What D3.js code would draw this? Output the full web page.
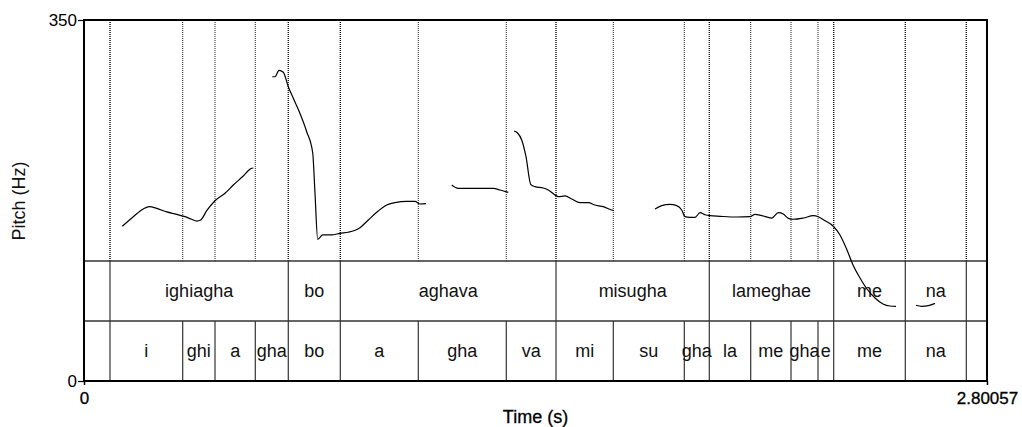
<!DOCTYPE html>
<html>
<head>
<meta charset="utf-8">
<script src="https://cdn.jsdelivr.net/npm/d3@7"></script>
<style>
  html, body { margin: 0; padding: 0; background: #fff; }
  svg { display: block; font-family: "Liberation Sans", Arial, Helvetica, sans-serif; }
</style>
</head>
<body>
<svg id="chart" width="1022" height="427"></svg>
<script>
// ---- data -------------------------------------------------------------
const totalDuration = 2.80057;
const pitchRange = [0, 350];
const yTickLabels = ["0", "350"];
const xTickLabels = ["0", "2.80057"];

// Word tier: interval boundaries (s) and labels
const wordBounds = [0.0806, 0.6336, 0.7949, 1.4639, 1.9393, 2.3251, 2.5472, 2.7364];
const wordLabels = ["", "ighiagha", "bo", "aghava", "misugha", "lameghae", "me", "na", ""];

// Syllable tier: interval boundaries (s) and labels
const sylBounds = [0.0806, 0.3061, 0.4063, 0.5313, 0.6336, 0.7949, 1.0368, 1.3097,
                   1.4639, 1.6416, 1.8618, 1.9393, 2.0677, 2.1927, 2.2764, 2.3251,
                   2.5472, 2.7364];
const sylLabels = ["", "i", "ghi", "a", "gha", "bo", "a", "gha", "va", "mi", "su",
                   "gha", "la", "me", "gha", "e", "me", "na", ""];

// Pitch contour (time s, F0 Hz), one array per voiced stretch
const pitchSeg1 = [[0.1188,150.0],[0.1529,159.3],[0.1839,166.8],[0.2025,169.0],[0.2255,167.4],
  [0.2565,163.9],[0.2875,161.6],[0.3132,159.3],[0.3340,156.8],[0.3495,155.1],[0.3619,156.1],
  [0.3805,165.1],[0.4063,174.8],[0.4373,182.0],[0.4630,190.0],[0.4941,198.8],[0.5170,205.8],
  [0.5251,206.5]];
const pitchSeg2 = [[0.5840,295.0],[0.5924,295.0],[0.6048,301.2],[0.6181,299.3],[0.6336,285.3],
  [0.6491,274.1],[0.6677,261.1],[0.6907,241.7],[0.7093,221.3],[0.7164,182.0],[0.7248,137.4],
  [0.7403,141.6],[0.7682,141.6],[0.7940,143.2],[0.8197,144.2],[0.8560,148.6],[0.8817,156.1],
  [0.9078,163.6],[0.9388,170.6],[0.9645,172.9],[1.0008,174.2],[1.0266,174.2],[1.0421,171.6],
  [1.0607,171.9]];
const pitchSeg3 = [[1.1404,190.0],[1.1609,186.8],[1.2074,186.8],[1.2694,186.8],[1.2902,185.2],
  [1.3159,182.9]];
const pitchSeg4 = [[1.3336,242.4],[1.3439,240.7],[1.3575,233.7],[1.3708,217.5],[1.3854,190.7],
  [1.3987,188.4],[1.4245,187.1],[1.4400,185.2],[1.4608,180.3],[1.4710,178.7],[1.4918,179.4],
  [1.5126,176.5],[1.5383,172.9],[1.5640,172.9],[1.5848,170.6],[1.6105,169.0],[1.6366,165.8],
  [1.6437,165.1]];
const pitchSeg5 = [[1.7709,166.8],[1.7917,170.0],[1.8174,171.3],[1.8382,170.0],[1.8537,165.8],
  [1.8640,159.3],[1.8795,158.7],[1.8950,158.7],[1.9105,163.2],[1.9260,161.2],[1.9415,160.3],
  [1.9725,159.7],[2.0243,159.0],[2.0656,159.3],[2.0811,161.6],[2.1019,160.3],[2.1329,158.0],
  [2.1534,163.2],[2.1689,161.9],[2.1844,157.7],[2.2000,156.8],[2.2310,158.0],[2.2618,160.3],
  [2.2773,159.3],[2.2981,155.4],[2.3229,150.3],[2.3446,141.6],[2.3664,127.0],[2.3850,112.5],
  [2.4067,99.9],[2.4284,89.2],[2.4532,80.5],[2.4780,74.7],[2.4997,72.7],[2.5183,72.4]];
const pitchSeg6 = [[2.5804,73.4],[2.5980,72.4],[2.6185,73.0],[2.6393,75.3]];

// ---- layout -----------------------------------------------------------
const svg = d3.select("#chart");
const plotLeft = 84, plotRight = 987, plotTop = 20, plotBottom = 381;
const tierHeight = 60;
const tier1Top = plotBottom - 2 * tierHeight;
const tier2Top = plotBottom - tierHeight;

const x = d3.scaleLinear().domain([0, totalDuration]).range([plotLeft, plotRight]);
const y = d3.scaleLinear().domain(pitchRange).range([plotBottom, plotTop]);

// dotted boundary guides in the pitch area (both tiers)
const guides = svg.append("g");
[wordBounds, sylBounds].forEach(bounds => {
  guides.selectAll(null).data(bounds).enter().append("line")
    .attr("x1", d => x(d)).attr("x2", d => x(d))
    .attr("y1", plotTop).attr("y2", tier1Top)
    .attr("stroke", "#000").attr("stroke-opacity", 0.8)
    .attr("stroke-width", 1.1).attr("stroke-dasharray", "1,1");
});

// tiers
function drawTier(bounds, labels, yTop) {
  const g = svg.append("g");
  g.append("line").attr("x1", plotLeft).attr("x2", plotRight)
    .attr("y1", yTop).attr("y2", yTop)
    .attr("stroke", "#333").attr("stroke-width", 1.3);
  g.selectAll("line.b").data(bounds).enter().append("line")
    .attr("class", "b")
    .attr("x1", d => x(d)).attr("x2", d => x(d))
    .attr("y1", yTop).attr("y2", yTop + tierHeight)
    .attr("stroke", "#333").attr("stroke-width", 1.2);
  const edges = [0, ...bounds, totalDuration];
  g.selectAll("text").data(labels).enter().append("text")
    .attr("x", (d, i) => (x(edges[i]) + x(edges[i + 1])) / 2)
    .attr("y", yTop + tierHeight / 2 + 6.3)
    .attr("text-anchor", "middle")
    .attr("font-size", 18)
    .attr("fill", "#111")
    .text(d => d);
}
drawTier(wordBounds, wordLabels, tier1Top);
drawTier(sylBounds, sylLabels, tier2Top);

// pitch contour
const line = d3.line()
  .x(d => x(d[0])).y(d => y(d[1]))
  .curve(d3.curveMonotoneX);
[pitchSeg1, pitchSeg2, pitchSeg3, pitchSeg4, pitchSeg5, pitchSeg6].forEach(seg => {
  svg.append("path").datum(seg)
    .attr("d", line)
    .attr("fill", "none")
    .attr("stroke", "#000")
    .attr("stroke-width", 1.2);
});

// frame
svg.append("rect")
  .attr("x", plotLeft).attr("y", plotTop)
  .attr("width", plotRight - plotLeft).attr("height", plotBottom - plotTop)
  .attr("fill", "none").attr("stroke", "#000").attr("stroke-width", 2);

// left axis
const yAxis = d3.axisLeft(y)
  .tickValues(pitchRange)
  .tickFormat((d, i) => yTickLabels[i])
  .tickSize(6).tickPadding(1);
const ya = svg.append("g").attr("transform", `translate(${plotLeft},0)`).call(yAxis);
ya.select(".domain").remove();
ya.selectAll(".tick line").attr("stroke", "#000").attr("stroke-width", 1.2);
ya.selectAll(".tick text").attr("font-size", 17).attr("fill", "#000")
  .attr("font-family", "Liberation Sans, Arial, sans-serif");

// bottom axis
const xAxis = d3.axisBottom(x)
  .tickValues([0, totalDuration])
  .tickFormat((d, i) => xTickLabels[i])
  .tickSize(4).tickPadding(7);
const xa = svg.append("g").attr("transform", `translate(0,${plotBottom})`).call(xAxis);
xa.select(".domain").remove();
xa.selectAll(".tick line").attr("stroke", "#000").attr("stroke-width", 1.5);
xa.selectAll(".tick text").attr("font-size", 17).attr("fill", "#000")
  .attr("stroke", "#000").attr("stroke-width", 0.3)
  .attr("font-family", "Liberation Sans, Arial, sans-serif");

// axis titles
svg.append("text")
  .attr("x", (plotLeft + plotRight) / 2).attr("y", 423)
  .attr("text-anchor", "middle").attr("font-size", 18).attr("fill", "#000")
  .attr("stroke", "#000").attr("stroke-width", 0.3)
  .text("Time (s)");
svg.append("text")
  .attr("transform", `translate(25,201) rotate(-90)`)
  .attr("text-anchor", "middle").attr("font-size", 18).attr("fill", "#111")
  .text("Pitch (Hz)");
</script>
</body>
</html>
